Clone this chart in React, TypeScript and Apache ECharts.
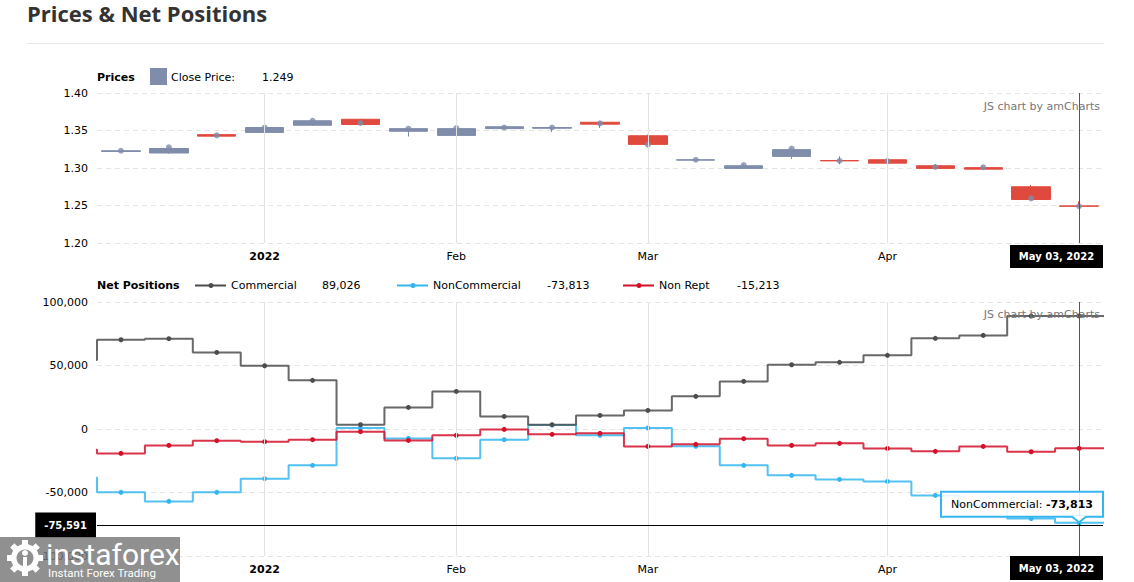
import { useEffect, useRef } from "react";
import * as echarts from "echarts";

// ---------- data ----------
const categories = [
  "2021-12-14", "2021-12-21", "2021-12-28", "2022-01-04", "2022-01-11", "2022-01-18", "2022-01-25",
  "2022-02-01", "2022-02-08", "2022-02-15", "2022-02-22", "2022-03-01", "2022-03-08", "2022-03-15",
  "2022-03-22", "2022-03-29", "2022-04-05", "2022-04-12", "2022-04-19", "2022-04-26", "2022-05-03",
];
const priceOpen = [1.322, 1.32, 1.3445, 1.3475, 1.357, 1.365, 1.349, 1.3435, 1.3525, 1.353, 1.361, 1.343, 1.3105, 1.2995, 1.3155, 1.31, 1.311, 1.303, 1.3005, 1.275, 1.2495];
const priceClose = [1.323, 1.326, 1.3425, 1.354, 1.363, 1.358, 1.3525, 1.3525, 1.355, 1.354, 1.3585, 1.3315, 1.311, 1.303, 1.3245, 1.3095, 1.3065, 1.2995, 1.2985, 1.258, 1.249];
const priceLow = [1.3215, 1.319, 1.342, 1.347, 1.356, 1.3575, 1.342, 1.343, 1.352, 1.348, 1.3535, 1.331, 1.31, 1.299, 1.312, 1.305, 1.306, 1.299, 1.298, 1.2575, 1.2485];
const priceHigh = [1.3235, 1.328, 1.3445, 1.3555, 1.364, 1.3655, 1.353, 1.354, 1.3555, 1.355, 1.3612, 1.3445, 1.3115, 1.305, 1.327, 1.3155, 1.316, 1.3055, 1.303, 1.2775, 1.2555];
const closePrice = [1.323, 1.3275, 1.3435, 1.354, 1.363, 1.36, 1.3524, 1.3533, 1.354, 1.354, 1.3595, 1.331, 1.311, 1.304, 1.326, 1.3097, 1.3093, 1.3013, 1.301, 1.2595, 1.249];

const commercial = [70300, 71100, 60300, 49800, 38300, 3400, 17000, 29600, 9900, 3400, 10700, 14600, 25700, 37500, 50600, 52500, 58000, 71400, 73700, 88900, 89026];
const nonCommercial = [-49900, -57000, -49900, -39100, -28600, 800, -7400, -23100, -8400, 3100, -5000, 800, -13600, -28600, -36500, -39700, -41300, -52300, -60000, -70500, -73813];
const nonRept = [-19200, -12900, -9200, -10000, -8400, -2100, -9000, -5000, -300, -4200, -3400, -13700, -12100, -7600, -12900, -11300, -15300, -17600, -13700, -17900, -15213];
// values of the week before the first date shown (the first step at the left edge)
const priorCommercial = 54300;
const priorNonCommercial = -38300;
const priorNonRept = -16300;

const priceAxis = { min: 1.2, max: 1.4, interval: 0.05 };
const netAxis = { min: -100000, max: 100000, interval: 50000 };

const cursorIndex = 20;
const cursorValue = -75591;

const MONTHS = ["Jan", "Feb", "Mar", "Apr", "May", "Jun", "Jul", "Aug", "Sep", "Oct", "Nov", "Dec"];

// ---------- style ----------
const FONT = "DejaVu Sans";
const COL = {
  up: "#7f8caa",
  down: "#e04a3e",
  commercial: "#4d4d4d",
  nonCommercial: "#35b6f0",
  nonRept: "#d3112b",
  dash: "#e4e4e4",
  vline: "#e2e2e2",
};
const GRID_LEFT = 97;
const GRID_WIDTH = 1006;
const TOP_GRID = { top: 93, height: 150 };
const BOT_GRID = { top: 302, height: 254 };

const parse = (s: string) => s.split("-").map(Number);
const fmtNum = (v: number) => v.toLocaleString("en-US");
const fmtDate = (s: string) => {
  const [y, m, d] = parse(s);
  return `${MONTHS[m - 1]} ${String(d).padStart(2, "0")}, ${y}`;
};
const monthLabel = (i: number) => {
  if (i === 0) return "";
  const [y, m] = parse(categories[i]);
  const [, pm] = parse(categories[i - 1]);
  if (m === pm) return "";
  return m === 1 ? `{b|${y}}` : MONTHS[m - 1];
};
const monthStarts = categories.map((_, i) => i).filter((i) => monthLabel(i) !== "");
// the month label at the cursor is hidden under the cursor's date box
const labelAt = (i: number) => (i === cursorIndex ? "" : monthLabel(i));
const gridMonths = monthStarts.filter((i) => i !== cursorIndex);

const catAxis = (gridIndex: number) => ({
  type: "category",
  gridIndex,
  position: "bottom",
  data: categories,
  boundaryGap: true,
  axisLine: { show: false },
  axisTick: { show: false },
  splitLine: { show: false },
  axisLabel: {
    interval: 0,
    margin: 8,
    color: "#000",
    fontSize: 11,
    fontFamily: FONT,
    formatter: (_v: string, i: number) => labelAt(i),
    rich: { b: { fontWeight: "bold", fontSize: 11, fontFamily: FONT, color: "#000" } },
  },
});

const valAxis = (gridIndex: number, cfg: any, fmt: (v: number) => string) => ({
  type: "value",
  gridIndex,
  min: cfg.min,
  max: cfg.max,
  interval: cfg.interval,
  axisLine: { show: false },
  axisTick: { show: false },
  axisLabel: { margin: 9, color: "#000", fontSize: 11, fontFamily: FONT, formatter: fmt },
  splitLine: { lineStyle: { type: [5, 4], color: COL.dash, width: 1 } },
});

const stepSeries = (name: string, vals: number[], prior: number, color: string, z: number, extra: any = {}) => ({
  name,
  type: "line",
  xAxisIndex: 1,
  yAxisIndex: 1,
  step: "middle",
  symbol: "circle",
  symbolSize: 5,
  showSymbol: true,
  clip: true,
  z,
  lineStyle: { width: 2, color, opacity: 0.85 },
  itemStyle: { color },
  data: [
    { value: [-1, prior], symbol: "none" },
    ...vals.map((v, i) => [i, v]),
    { value: [vals.length, vals[vals.length - 1]], symbol: "none" },
  ],
  ...extra,
});

const gridLines = (xAxisIndex: number, yAxisIndex: number) => ({
  type: "line",
  xAxisIndex,
  yAxisIndex,
  data: [],
  silent: true,
  z: 1,
  markLine: {
    silent: true,
    symbol: ["none", "none"],
    label: { show: false },
    lineStyle: { color: COL.vline, type: "solid", width: 1 },
    data: gridMonths.map((i) => ({ xAxis: categories[i] })),
  },
});

export default function App() {
  const ref = useRef<HTMLDivElement>(null);

  useEffect(() => {
    const chart = echarts.init(ref.current!, null, { renderer: "svg" });
    const option: any = {
      animation: false,
      grid: [
        { left: GRID_LEFT, width: GRID_WIDTH, top: TOP_GRID.top, height: TOP_GRID.height },
        { left: GRID_LEFT, width: GRID_WIDTH, top: BOT_GRID.top, height: BOT_GRID.height },
      ],
      xAxis: [
        catAxis(0),
        { type: "value", gridIndex: 1, position: "top", min: -0.5, max: categories.length - 0.5, show: false },
        catAxis(1),
      ],
      yAxis: [
        valAxis(0, priceAxis, (v: number) => v.toFixed(2)),
        valAxis(1, netAxis, (v: number) => fmtNum(v)),
      ],
      series: [
        gridLines(0, 0),
        {
          name: "Close Price",
          type: "candlestick",
          xAxisIndex: 0,
          yAxisIndex: 0,
          barWidth: "81%",
          z: 3,
          itemStyle: { color: COL.up, color0: COL.down, borderColor: COL.up, borderColor0: COL.down, borderWidth: 1 },
          data: categories.map((_, i) => [priceOpen[i], priceClose[i], priceLow[i], priceHigh[i]]),
        },
        {
          type: "scatter",
          xAxisIndex: 0,
          yAxisIndex: 0,
          symbolSize: 6,
          z: 4,
          itemStyle: { color: COL.up },
          data: closePrice.map((v, i) => [categories[i], v]),
          markLine: {
            silent: true,
            symbol: ["none", "none"],
            label: { show: false },
            lineStyle: { color: "#555", type: "solid", width: 1 },
            data: [{ xAxis: categories[cursorIndex] }],
          },
        },
        gridLines(2, 1),
        stepSeries("Commercial", commercial, priorCommercial, COL.commercial, 5),
        stepSeries("NonCommercial", nonCommercial, priorNonCommercial, COL.nonCommercial, 3, {
          markLine: {
            silent: true,
            symbol: ["none", "none"],
            label: { show: false },
            data: [
              { xAxis: cursorIndex, lineStyle: { color: "#555", type: "solid", width: 1 } },
              {
                yAxis: cursorValue,
                lineStyle: { color: "#000", type: "solid", width: 1 },
                label: {
                  show: true,
                  position: "start",
                  distance: 1,
                  formatter: fmtNum(cursorValue),
                  backgroundColor: "#000",
                  color: "#fff",
                  fontWeight: "bold",
                  fontSize: 10,
                  fontFamily: FONT,
                  lineHeight: 12,
                  padding: [7, 9, 6, 9],
                },
              },
            ],
          },
        }),
        stepSeries("Non Rept", nonRept, priorNonRept, COL.nonRept, 4),
      ],
    };
    chart.setOption(option);

    const gridRight = GRID_LEFT + GRID_WIDTH;
    const cx = chart.convertToPixel({ xAxisIndex: 0 }, categories[cursorIndex]) as number;
    const p = chart.convertToPixel({ seriesIndex: 5 }, [cursorIndex, nonCommercial[cursorIndex]]) as number[];
    const dateW = 93;
    const dateX = Math.min(cx - dateW / 2, gridRight - dateW);
    const dateBox = (y: number, h: number) => ({
      type: "group",
      children: [
        { type: "rect", z: 40, shape: { x: dateX, y, width: dateW, height: h }, style: { fill: "#000" } },
        {
          type: "text",
          z: 41,
          style: {
            text: fmtDate(categories[cursorIndex]),
            x: dateX + dateW / 2,
            y: y + h / 2,
            align: "center",
            verticalAlign: "middle",
            fill: "#fff",
            fontWeight: "bold",
            fontSize: 10,
            fontFamily: FONT,
          },
        },
      ],
    });

    const tipW = 162;
    const tipH = 25;
    const tipX = Math.min(p[0] - tipW / 2, gridRight - tipW);
    const tipY = p[1] - 6 - tipH;
    const tooltip = {
      type: "group",
      children: [
        {
          type: "rect",
          z: 50,
          shape: { x: tipX, y: tipY, width: tipW, height: tipH },
          style: { fill: "rgba(255,255,255,0.88)", stroke: COL.nonCommercial, lineWidth: 2 },
        },
        {
          type: "polygon",
          z: 51,
          shape: { points: [[p[0] - 7, tipY + tipH - 1], [p[0], p[1] - 0.5], [p[0] + 7, tipY + tipH - 1]] },
          style: { fill: "#fff" },
        },
        {
          type: "polyline",
          z: 52,
          shape: { points: [[p[0] - 7, tipY + tipH], [p[0], p[1] - 0.5], [p[0] + 7, tipY + tipH]] },
          style: { stroke: COL.nonCommercial, lineWidth: 2, fill: "none" },
        },
        {
          type: "text",
          z: 53,
          style: {
            text: `{a|NonCommercial: }{b|${fmtNum(nonCommercial[cursorIndex])}}`,
            x: tipX + tipW / 2,
            y: tipY + tipH / 2,
            align: "center",
            verticalAlign: "middle",
            rich: {
              a: { fontSize: 11, fontFamily: FONT, fill: "#000" },
              b: { fontSize: 11, fontFamily: FONT, fill: "#000", fontWeight: "bold" },
            },
          },
        },
      ],
    };

    const txt = (text: string, x: number, y: number, extra: any = {}, z = 10) => ({
      type: "text",
      z,
      style: { text, x, y, verticalAlign: "middle", fill: "#000", fontSize: 11, fontFamily: FONT, ...extra },
    });
    const legendItem = (x: number, name: string, value: string, color: string, valueX: number) => [
      { type: "line", shape: { x1: x, y1: 285.5, x2: x + 31, y2: 285.5 }, style: { stroke: color, lineWidth: 2 } },
      { type: "circle", shape: { cx: x + 16, cy: 285.5, r: 2.5 }, style: { fill: color } },
      txt(name, x + 36, 285.5),
      txt(value, valueX, 285.5),
    ];

    const teeth = Array.from({ length: 8 }, (_, k) => ({
      type: "rect",
      z: 101,
      x: 25,
      y: 558,
      rotation: (k * Math.PI) / 4,
      shape: { x: -3, y: -18, width: 6, height: 6 },
      style: { fill: "#fff" },
    }));

    const graphics: any[] = [
      txt("Prices & Net Positions", 27, 13, { fontFamily: "Open Sans", fontWeight: "bold", fontSize: 22, fill: "#333" }),
      { type: "line", shape: { x1: 27, y1: 43.5, x2: 1104, y2: 43.5 }, style: { stroke: "#e8e8e8", lineWidth: 1 } },
      txt("Prices", 97, 77, { fontWeight: "bold" }),
      { type: "rect", shape: { x: 150, y: 68, width: 17, height: 17 }, style: { fill: COL.up } },
      txt("Close Price:", 171, 77),
      txt(closePrice[closePrice.length - 1].toFixed(3), 262, 77),
      txt("Net Positions", 97, 285.5, { fontWeight: "bold" }),
      ...legendItem(195, "Commercial", fmtNum(commercial[cursorIndex]), COL.commercial, 322),
      ...legendItem(397, "NonCommercial", fmtNum(nonCommercial[cursorIndex]), COL.nonCommercial, 547),
      ...legendItem(623, "Non Rept", fmtNum(nonRept[cursorIndex]), COL.nonRept, 737),
      txt("JS chart by amCharts", 1100, 106, { align: "right", fill: "#777" }),
      txt("JS chart by amCharts", 1100, 314, { align: "right", fill: "#777" }),
      dateBox(TOP_GRID.top + TOP_GRID.height + 2, 23),
      dateBox(BOT_GRID.top + BOT_GRID.height, 24),
      tooltip,
      // logo overlay (bottom-left)
      { type: "rect", z: 100, shape: { x: 0, y: 537, width: 180, height: 45 }, style: { fill: "rgba(120,120,120,0.82)" } },
      ...teeth,
      { type: "ring", z: 101, shape: { cx: 25, cy: 558, r: 14, r0: 8.5 }, style: { fill: "#fff" } },
      { type: "circle", z: 101, shape: { cx: 25, cy: 553, r: 3 }, style: { fill: "#fff" } },
      { type: "rect", z: 101, shape: { x: 23, y: 557, width: 4, height: 15 }, style: { fill: "#fff" } },
      txt("instaforex", 46, 554, { fill: "#fff", fontFamily: "Roboto", fontSize: 30 }, 102),
      txt("Instant Forex Trading", 48, 572.5, { fill: "#fff", fontFamily: "Roboto", fontSize: 11.5 }, 102),
    ];
    chart.setOption({ graphic: graphics });

    return () => chart.dispose();
  }, []);

  return <div ref={ref} style={{ position: "absolute", left: 0, top: 0, width: 1134, height: 582, background: "#fff" }} />;
}
